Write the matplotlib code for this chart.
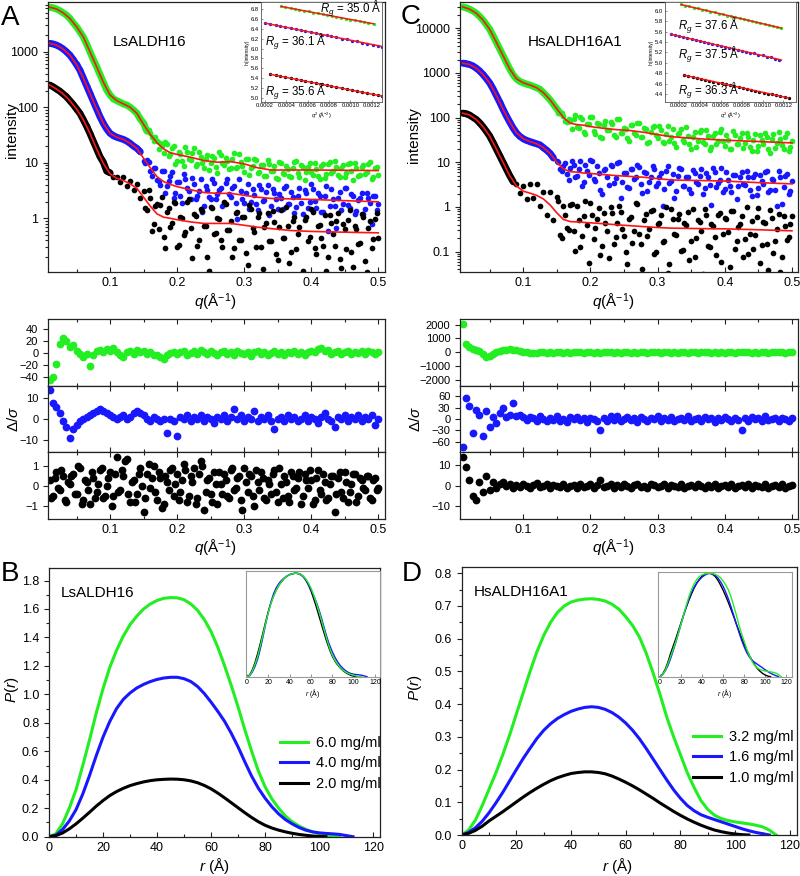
#!/usr/bin/env python3
"""
SAXS overview figure: LsALDH16 (A, B) and HsALDH16A1 (C, D).

  A / C  scattering curves with model fits (red), Guinier insets,
         normalised fit residuals underneath
  B / D  pair-distance distributions P(r) for the concentration series,
         peak-normalised curves in the inset

Intensities are kept as log10 values because that is how they were read
off the log axis.
"""

import numpy as np
import matplotlib
matplotlib.use("Agg")
import matplotlib.pyplot as plt
from matplotlib.ticker import (MultipleLocator, LogLocator, FuncFormatter,
                               NullFormatter, FormatStrFormatter, NullLocator)

plt.rcParams["font.family"] = ["Liberation Sans", "DejaVu Sans"]
plt.rcParams["mathtext.fontset"] = "custom"
plt.rcParams["mathtext.rm"] = "Liberation Sans"
plt.rcParams["mathtext.it"] = "Liberation Sans:italic"

# ── Colours ───────────────────────────────────────────────────────────────────
GREEN = "#22ee22"
BLUE = "#1818ff"
BLACK = "#000000"
RED = "#ff1414"
SPINE = "#222222"

# ── Measurement grids ─────────────────────────────────────────────────────────
Q = np.round(np.arange(0.010, 0.5001, 0.005), 4)      # 99 points
QH = np.round(np.arange(0.1525, 0.4976, 0.005), 4)    # interleaved high-q points
QR = np.round(np.arange(0.0125, 0.4976, 0.005), 4)    # interleaved residual points

# ── A: LsALDH16 scattering data, log10(intensity) ─────────────────────────────
LS_GREEN_LOG = [
    3.80, 3.79, 3.77, 3.74, 3.70, 3.66, 3.60, 3.52, 3.45, 3.36,
    3.27, 3.14, 3.00, 2.86, 2.73, 2.59, 2.45, 2.31, 2.22, 2.15,
    2.12, 2.09, 2.06, 2.04, 2.00, 1.95, 1.89, 1.79, 1.71, 1.57,
    1.54, 1.40, 1.39, 1.35, 1.17, 1.33, 1.15, 1.31, 1.03, 1.15,
    0.95, 1.20, 1.05, 1.26, 0.97, 1.10, 0.90, 1.14, 1.00, 1.08,
    0.82, 1.14, 0.96, 1.03, 0.91, 1.18, 0.93, 1.02, 0.83, 1.06,
    0.90, 1.06, 0.82, 0.96, 0.76, 1.05, 0.86, 0.95, 0.71, 0.99,
    0.80, 0.89, 0.75, 1.02, 0.82, 0.96, 0.69, 0.92, 0.84, 1.00,
    0.77, 0.94, 0.73, 0.98, 0.81, 1.03, 0.78, 0.90, 0.74, 0.97,
    0.85, 1.00, 0.76, 0.92, 0.79, 0.98, 0.71, 0.90, 0.78,
]
LS_GREEN_LOG_HQ = [
    1.60, 1.59, 1.46, 1.46, 1.24, 1.31, 1.37, 1.13, 1.26, 0.98,
    1.19, 1.03, 1.28, 1.07, 1.17, 0.95, 1.19, 0.99, 1.06, 0.87,
    1.13, 0.92, 1.19, 0.99, 1.09, 0.88, 1.06, 0.91, 1.15, 0.94,
    1.06, 0.78, 0.94, 1.05, 0.83, 0.96, 0.77, 0.98, 0.85, 0.72,
    1.01, 0.81, 0.95, 0.77, 0.90, 1.04, 0.74, 0.92, 0.83, 0.99,
    0.78, 0.89, 0.71, 0.98, 0.80, 1.02, 0.86, 0.93, 0.75, 0.96,
    0.82, 1.00, 0.69, 0.90, 0.78, 0.96, 0.83, 1.02, 0.75, 0.93,
]
LS_BLUE_LOG = [
    3.15, 3.14, 3.12, 3.09, 3.05, 3.00, 2.94, 2.86, 2.77, 2.67,
    2.53, 2.39, 2.25, 2.11, 1.97, 1.83, 1.71, 1.61, 1.53, 1.49,
    1.46, 1.44, 1.42, 1.39, 1.35, 1.30, 1.26, 1.20, 1.04, 1.05,
    0.86, 0.91, 0.69, 0.60, 0.86, 0.58, 0.76, 0.37, 0.65, 0.41,
    0.79, 0.55, 0.34, 0.62, 0.41, 0.70, 0.22, 0.51, 0.34, 0.63,
    0.43, 0.55, 0.25, 0.71, 0.39, 0.59, -0.01, 0.50, 0.27, 0.61,
    0.30, 0.42, 0.15, 0.53, 0.33, 0.60, 0.23, 0.45, 0.17, 0.36,
    0.55, 0.25, 0.48, 0.09, 0.41, 0.28, 0.51, 0.18, 0.61, 0.31,
    0.45, 0.12, 0.41, -0.22, 0.52, 0.22, 0.36, 0.15, 0.55, 0.24,
    0.43, 0.07, 0.33, 0.46, 0.16, 0.37, -0.10, 0.40, 0.25,
]
LS_BLUE_LOG_HQ = [
    1.00, 1.02, 0.77, 0.91, 0.67, 0.86, 0.45, 0.67, 0.84, 0.46,
    0.66, 0.27, 0.70, 0.49, 0.72, 0.34, 0.50, 0.12, 0.59, 0.39,
    0.70, 0.34, 0.51, 0.23, 0.64, 0.43, 0.54, 0.28, 0.71, 0.34,
    0.45, 0.16, 0.53, 0.25, 0.60, 0.32, 0.47, 0.06, 0.53, 0.35,
    0.43, 0.16, 0.58, 0.26, 0.38, 0.21, 0.55, 0.08, 0.46, 0.30,
    0.52, 0.18, 0.40, 0.12, 0.59, 0.23, 0.34, -0.18, 0.47, 0.25,
    0.54, 0.19, 0.40, 0.13, 0.36, 0.08, 0.46, 0.28, 0.40, 0.15,
]
LS_BLACK_LOG = [
    2.40, 2.37, 2.33, 2.29, 2.24, 2.19, 2.12, 2.05, 1.97, 1.89,
    1.78, 1.66, 1.53, 1.39, 1.25, 1.11, 1.01, 0.85, 0.82, 0.74,
    0.75, 0.66, 0.74, 0.58, 0.67, 0.51, 0.62, 0.36, 0.50, 0.15,
    0.36, -0.10, 0.26, 0.24, -0.33, 0.11, -0.15, 0.29, -0.52, 0.02,
    -0.30, 0.30, -0.17, 0.08, -0.49, 0.16, -0.14, -0.69, 0.21, -0.29,
    0.01, -0.39, 0.29, -0.21, -0.04, -0.54, 0.12, -0.39, 0.03, -0.84,
    0.17, -0.24, 0.02, -0.52, -0.16, 0.10, -0.41, -0.07, -0.75, 0.15,
    -0.36, -0.14, -0.60, 0.03, -0.28, -1.03, -0.03, -0.41, 0.16, -0.54,
    -0.14, -0.36, 0.06, -0.69, -0.09, -0.50, 0.10, -0.90, -0.20, -0.03,
    -0.60, -0.13, -0.46, 0.07, -0.76, -0.18, -0.54, -0.01, -0.36,
]
LS_BLACK_LOG_HQ = [
    0.19, 0.51, -0.22, 0.22, -0.19, 0.38, -0.54, 0.19, -0.09, 0.28,
    -0.48, 0.01, -0.25, 0.34, -0.72, 0.04, -0.39, 0.13, -0.14, -0.94,
    0.19, -0.27, -0.01, -0.51, 0.25, -0.21, -0.69, 0.10, -0.39, 0.03,
    -0.63, 0.24, -0.17, -0.51, 0.09, -0.92, -0.08, -0.40, 0.13, -0.64,
    -0.15, -0.36, 0.21, -0.80, -0.04, -0.55, -0.15, -0.95, 0.03, -0.33,
    0.11, -0.64, -0.12, -0.49, -0.94, 0.06, -0.29, -0.05, -0.73, -0.10,
    -0.55, 0.15, -0.87, -0.19, -0.44, 0.02, -0.96, -0.04, -0.38, 0.10,
]

# model fits (red lines), read at these q values
FIT_Q = [0.010, 0.020, 0.030, 0.040, 0.050, 0.060, 0.070, 0.080, 0.090, 0.100,
         0.110, 0.120, 0.130, 0.140, 0.150, 0.160, 0.170, 0.180, 0.190, 0.200,
         0.220, 0.240, 0.260, 0.280, 0.300, 0.320, 0.340, 0.370, 0.400, 0.450,
         0.500]
LS_GREEN_FIT = [3.80, 3.77, 3.70, 3.60, 3.45, 3.27, 3.00, 2.73, 2.45, 2.22,
                2.12, 2.06, 2.00, 1.89, 1.69, 1.51, 1.36, 1.25, 1.18, 1.15,
                1.10, 1.04, 1.01, 1.02, 0.98, 0.91, 0.87, 0.87, 0.87, 0.865,
                0.86]
LS_BLUE_FIT = [3.15, 3.12, 3.05, 2.94, 2.77, 2.53, 2.25, 1.97, 1.71, 1.53,
               1.46, 1.42, 1.35, 1.26, 1.08, 0.91, 0.75, 0.66, 0.61, 0.57,
               0.515, 0.465, 0.449, 0.449, 0.415, 0.38, 0.358, 0.35, 0.34, 0.318,
               0.297]
LS_BLACK_FIT = [2.40, 2.33, 2.24, 2.12, 1.97, 1.78, 1.53, 1.25, 0.99, 0.80,
                0.72, 0.68, 0.62, 0.54, 0.38, 0.22, 0.08, 0.02, 0.00, -0.025,
                -0.065, -0.092, -0.092, -0.092, -0.125, -0.16, -0.185, -0.22, -0.236, -0.25,
                -0.261]

# normalised residuals (Δ/σ)
LS_GREEN_RES = [
    -45, -40, -18, 15, 25, 20, 10, 14, 3, -2,
    -6, -1, -22, -4, 3, 5, 2, 6, 4, 8,
    2, -3, -7, 1, 3, -2, 5, 1, 4, -1,
    2, -4, -3, -6, -10, -4, 0, 2, -2, 1,
    3, -3, 0, 4, -1, 5, 2, -2, 3, 0,
    -3, 2, 4, -1, 1, -4, 3, 0, -2, 2,
    -5, 1, 3, -1, 2, -3, 0, 4, -2, 1,
    -4, 2, 0, 3, -1, 2, -3, 1, 4, 2,
    6, 8, 3, 5, -1, 2, 4, -2, 1, 3,
    -1, 2, 0, 4, -2, 3, 1, -1, 2,
]
LS_BLUE_RES = [
    14, 8, 6, 3, -1, -4, -9, -5, -3, -1,
    0, 1, 2, 3, 4, 5, 4, 3, 2, 1,
    0, 1, 2, 0, 1, 3, 4, 3, 2, 0,
    -1, 1, 0, -1, 0, -7, 0, -1, -8, 1,
    0, 2, -1, 1, 0, 2, -1, 1, 0, -2,
    1, 0, 2, -1, 1, 5, 0, 2, -1, 1,
    0, 4, -1, 1, 0, 2, -1, -5, 0, 1,
    -1, 2, 0, 1, -1, 0, 2, -1, 1, 0,
    -2, 1, 3, 0, -1, -4, 1, 0, 2, -1,
    1, 0, 2, -1, 1, 0, 2, -3, 0,
]
LS_BLACK_RES = [
    0.3, -0.5, 0.7, -0.2, 0.5, -0.8, 0.1, 0.6, -0.4, 0.9,
    -0.7, 0.2, -0.9, 0.4, -0.3, 0.8, -0.6, 0.0, 0.7, -0.5,
    1.4, -0.2, 0.5, 1.3, -0.8, 0.3, -0.4, 0.9, -1.3, 0.6,
    -0.1, 1.0, -0.7, 0.4, -0.9, 0.2, 0.8, -0.5, 0.6, -0.3,
    1.1, -0.8, 0.5, 0.9, -0.6, 1.2, -1.2, 0.3, -0.4, 0.7,
    -0.9, 0.1, 0.6, -0.5, 0.8, -0.2, 0.4, -0.7, 0.9, -0.3,
    0.5, -1.0, 0.2, 0.7, -0.6, 0.3, -0.4, 0.8, -0.8, 0.1,
    0.5, -0.5, 0.7, -0.2, 0.4, -0.9, 0.6, -0.1, 0.3, -0.7,
    0.8, -0.4, 0.2, -0.6, 0.5, -1.3, 0.4, -0.3, 0.7, -0.8,
    0.1, 0.6, -0.5, 0.3, -0.2, 0.5, -0.7, 0.4, -0.1,
]
LS_BLACK_RES_HQ = [
    -0.6, 0.4, -0.1, 0.8, -0.7, 0.2, 0.5, -0.4, 1.0, -0.9,
    0.3, -0.2, 0.7, -0.6, 0.1, 0.9, -0.5, 0.4, -1.0, 0.6,
    -0.3, 0.8, 1.2, -0.4, 0.2, -0.8, 0.6, 0.0, -0.6, 1.1,
    0.4, -0.3, 0.7, -1.1, 0.5, -0.2, 0.9, 0.1, -0.7, 0.3,
    0.8, -0.5, 0.2, -0.9, 0.6, 1.0, -0.3, 0.4, -0.8, 0.1,
    0.7, -0.4, 0.3, -0.6, 0.9, -0.1, 0.5, -1.2, 0.2, 0.6,
    -0.5, 0.8, -0.2, 0.4, -0.7, 0.1, 0.6, -0.3, 0.9, -0.6,
    0.2, -0.8, 0.5, -0.1, 0.7, -0.5, 0.3, 0.8, -0.9, 0.4,
    -0.2, 0.6, -0.7, 0.1, 0.5, -0.4, 0.7, -0.6, 0.2, -0.3,
    0.6, -0.8, 0.4, -0.1, 0.5, -0.6, 0.3, -0.2,
]

# ── C: HsALDH16A1 scattering data, log10(intensity) ───────────────────────────
HS_GREEN_LOG = [
    4.48, 4.46, 4.43, 4.39, 4.34, 4.27, 4.19, 4.09, 3.98, 3.84,
    3.69, 3.54, 3.39, 3.24, 3.09, 2.96, 2.87, 2.81, 2.78, 2.75,
    2.73, 2.70, 2.67, 2.635, 2.56, 2.48, 2.40, 2.30, 2.20, 2.10,
    2.03, 1.90, 1.92, 1.96, 1.80, 2.02, 1.68, 1.86, 2.02, 1.69,
    1.89, 1.57, 1.83, 1.73, 1.90, 1.61, 1.98, 1.65, 1.77, 1.54,
    1.84, 1.66, 1.89, 1.56, 1.76, 1.44, 1.67, 1.81, 1.55, 1.72,
    1.43, 1.81, 1.57, 1.43, 1.64, 1.75, 1.46, 1.58, 1.30, 1.67,
    1.47, 1.73, 1.41, 1.58, 1.34, 1.66, 1.47, 1.74, 1.37, 1.50,
    1.30, 1.61, 1.40, 1.66, 1.43, 1.56, 1.26, 1.63, 1.37, 1.50,
    1.66, 1.30, 1.52, 1.33, 1.67, 1.38, 1.57, 1.26, 1.48,
]
HS_GREEN_LOG_HQ = [
    2.11, 2.11, 1.92, 1.98, 1.75, 2.05, 1.76, 1.97, 1.64, 1.85,
    2.01, 1.64, 1.86, 1.55, 1.92, 1.73, 1.85, 1.56, 1.97, 1.66,
    1.75, 1.48, 1.84, 1.61, 1.88, 1.56, 1.74, 1.46, 1.79, 1.62,
    1.82, 1.45, 1.64, 1.47, 1.75, 1.34, 1.66, 1.51, 1.78, 1.41,
    1.56, 1.35, 1.67, 1.45, 1.72, 1.27, 1.59, 1.40, 1.67, 1.47,
    1.61, 1.30, 1.71, 1.40, 1.54, 1.32, 1.66, 1.35, 1.51, 1.26,
    1.61, 1.40, 1.56, 1.20, 1.63, 1.43, 1.53, 1.30, 1.65, 1.35,
]
HS_BLUE_LOG = [
    3.22, 3.21, 3.19, 3.16, 3.11, 3.05, 2.97, 2.88, 2.78, 2.65,
    2.50, 2.35, 2.19, 2.04, 1.90, 1.77, 1.66, 1.58, 1.53, 1.49,
    1.465, 1.44, 1.415, 1.39, 1.33, 1.27, 1.20, 1.10, 1.04, 0.86,
    0.92, 0.74, 0.88, 0.94, 0.70, 1.02, 0.56, 0.81, 1.05, 0.63,
    0.92, 0.38, 0.83, 0.68, 0.93, 0.53, 0.98, 0.20, 0.77, 0.44,
    0.84, 0.62, 0.94, 0.52, 0.79, 0.36, 0.68, 0.84, 0.54, 0.77,
    0.40, 0.91, 0.59, 0.20, 0.70, 0.84, 0.48, 0.66, 0.32, 0.77,
    0.51, 0.86, 0.43, 0.67, 0.04, 0.79, 0.54, 0.87, 0.40, 0.60,
    0.34, 0.72, 0.47, 0.79, 0.49, 0.68, 0.25, 0.74, 0.42, 0.59,
    0.79, 0.33, 0.62, 0.37, 0.81, 0.07, 0.69, 0.30, 0.58,
]
HS_BLUE_LOG_HQ = [
    1.00, 0.80, 0.98, 0.60, 1.04, 0.66, 0.86, 0.47, 0.94, 0.71,
    1.03, 0.58, 0.76, 0.28, 0.84, 0.50, 0.91, 0.64, 1.00, 0.55,
    0.76, 0.43, 0.84, 0.66, 0.90, 0.32, 0.76, 0.55, 0.91, 0.46,
    0.67, 0.02, 0.81, 0.54, 0.73, 0.36, 0.87, 0.48, 0.66, 0.40,
    0.82, 0.55, 0.70, 0.29, 0.76, 0.50, 0.88, 0.44, 0.61, 0.33,
    0.79, 0.47, 0.71, 0.17, 0.66, 0.51, 0.80, 0.37, 0.67, 0.27,
    0.72, 0.51, 0.80, 0.39, 0.61, 0.03, 0.67, 0.44, 0.74, 0.35,
]
HS_BLACK_LOG = [
    2.10, 2.09, 2.06, 2.01, 1.96, 1.89, 1.80, 1.70, 1.59, 1.45,
    1.30, 1.15, 1.00, 0.85, 0.70, 0.57, 0.52, 0.31, 0.48, 0.18,
    0.51, 0.19, 0.51, 0.03, 0.33, -0.19, 0.33, -0.29, 0.22, -0.62,
    0.02, -0.46, 0.05, -0.53, 0.02, -0.89, -0.20, -0.40, 0.10, -0.71,
    -0.27, -1.07, -0.13, -0.53, 0.01, -0.84, -0.35, -0.11, -0.66, -1.27,
    -0.22, -0.53, 0.07, -0.84, -0.29, -0.65, -0.10, -1.06, -0.38, -0.18,
    -0.77, -1.47, -0.05, -0.60, -0.26, -0.98, -0.36, -0.12, -0.76, -1.13,
    -0.30, -0.54, -0.04, -0.87, -0.39, -0.67, -0.17, -1.24, -0.24, -0.57,
    -0.09, -0.95, -0.45, -0.20, -0.72, -1.05, -0.31, -0.63, -0.03, -0.86,
    -0.37, -1.42, -0.24, -0.77, -0.15, -1.13, -0.43, -0.68, -0.20,
]
HS_BLACK_LOG_HQ = [
    0.13, -0.70, -0.18, -0.52, 0.07, -0.98, -0.29, -0.64, 0.13, -1.25,
    -0.18, -0.48, -0.02, -0.87, -0.36, -1.14, -0.14, -0.68, 0.02, -0.49,
    -1.01, -0.27, -0.80, 0.09, -0.61, -1.39, -0.16, -0.50, -0.07, -1.01,
    -0.36, -0.79, -0.01, -1.27, -0.28, -0.63, -0.15, -0.96, -0.40, -1.18,
    -0.04, -0.70, -0.34, -1.49, -0.19, -0.89, -0.43, -1.07, -0.13, -0.61,
    -0.27, -1.35, -0.10, -0.76, -0.38, -1.12, 0.00, -0.61, -0.93, -0.23,
    -1.26, -0.34, -0.82, -0.07, -1.04, -0.49, -1.45, -0.21, -0.73, -0.39,
]

HS_GREEN_FIT = [4.48, 4.43, 4.34, 4.19, 3.98, 3.69, 3.39, 3.09, 2.87, 2.78,
                2.73, 2.67, 2.56, 2.40, 2.20, 2.00, 1.875, 1.845, 1.83, 1.80,
                1.76, 1.73, 1.71, 1.67, 1.62, 1.575, 1.55, 1.52, 1.495, 1.465,
                1.434]
HS_BLUE_FIT = [3.22, 3.19, 3.11, 2.97, 2.78, 2.50, 2.19, 1.90, 1.66, 1.53,
               1.465, 1.415, 1.33, 1.20, 1.00, 0.85, 0.79, 0.78, 0.76, 0.75,
               0.725, 0.70, 0.683, 0.665, 0.635, 0.605, 0.598, 0.59, 0.58, 0.545,
               0.517]
HS_BLACK_FIT = [2.10, 2.06, 1.96, 1.80, 1.59, 1.30, 1.00, 0.70, 0.47, 0.355,
                0.31, 0.26, 0.18, 0.047, -0.13, -0.28, -0.327, -0.335, -0.345, -0.355,
                -0.375, -0.40, -0.42, -0.44, -0.46, -0.474, -0.478, -0.486, -0.49, -0.51,
                -0.534]

HS_GREEN_RES = [
    2050, 600, 400, 250, 150, 80, -150, -300, -250, -100,
    0, 100, 150, 200, 250, 200, 150, 100, 50, 0,
    -30, -60, -40, 0, 30, -20, 40, -50, 10, 60,
    -30, 20, -40, 50, -10, 30, -60, 0, 40, -20,
    10, -50, 30, -10, 60, -40, 20, -30, 50, 0,
    -20, 40, -60, 10, 30, -40, 20, -10, 50, -30,
    0, 40, -50, 20, -20, 10, 60, -40, 30, -10,
    -60, 20, 0, 40, -30, 10, -20, 50, -40, 30,
    0, -50, 20, 40, -10, 30, -20, 50, -30, 10,
    0, -40, 20, 60, -10, 30, -20, 0, 40,
]
HS_BLUE_RES = [
    -75, 55, 35, -38, 25, 10, -45, 20, -20, 5,
    -10, 15, 28, 5, 10, 42, 8, 12, 5, -3,
    6, 3, -5, 8, 0, -6, 4, -2, 7, -4,
    1, -7, 5, -1, 6, -3, 2, -8, 4, 0,
    -5, -28, 3, -4, 7, -2, 9, -6, 1, 5,
    -3, 2, -7, 6, 0, -4, 3, -1, 8, -5,
    2, -3, 5, -6, 1, 4, -2, 7, -4, 0,
    3, -5, 6, -1, 2, -7, 4, -3, 5, 0,
    -6, 3, -2, -28, 4, -4, 6, -1, 2, -5,
    7, -3, 1, 4, -6, 2, 0, -4, 3,
]
HS_BLACK_RES = [
    14, 9, 3, -5, -7, 2, -3, 5, -2, 2,
    -1, 1, 2, 0, 1, -1, 0.5, -0.5, 1, 0,
    -1, 0.5, 1.5, -0.5, 0, 1, -1, 0.5, 0, -0.5,
    1, -1, 0, 0.5, -1, 1, -0.5, 0, 1, -1,
    0.5, 3, -0.5, 0, 1, -1, 0.5, -0.5, 1, 0,
    -1, 0.5, 1, -0.5, 0, -1, 1, 0.5, -0.5, 0,
    1, -1, 0.5, 0, -0.5, 1, -1, 0, 0.5, -0.5,
    1, 0, -1, 0.5, -0.5, 1, -1, 0, 0.5, -0.5,
    1, -1, 0, 0.5, -0.5, 1, -1, 0.5, 0, -0.5,
    1, -1, 0, 0.5, -0.5, 1, -1, 0, 0.5,
]

# ── Guinier insets: q^2 (Å^-2) vs ln(intensity) ───────────────────────────────
LS_G_Q2 = [0.00035, 0.00039, 0.00044, 0.00048, 0.00052, 0.00057, 0.00061,
           0.00065, 0.00070, 0.00074, 0.00078, 0.00083, 0.00087, 0.00091,
           0.00096, 0.00100, 0.00104, 0.00109, 0.00113, 0.00117, 0.00122]
LS_G_LN = [6.862, 6.841, 6.826, 6.804, 6.793, 6.768, 6.757, 6.735, 6.719, 6.698,
           6.688, 6.661, 6.650, 6.629, 6.614, 6.592, 6.580, 6.555, 6.544, 6.522,
           6.507]
LS_B_Q2 = [0.00020, 0.00025, 0.00030, 0.00034, 0.00039, 0.00044, 0.00049,
           0.00054, 0.00058, 0.00063, 0.00068, 0.00073, 0.00078, 0.00082,
           0.00087, 0.00092, 0.00097, 0.00102, 0.00106, 0.00111, 0.00116,
           0.00121, 0.00126, 0.00130]
LS_B_LN = [6.522, 6.496, 6.480, 6.456, 6.440, 6.413, 6.397, 6.370, 6.357, 6.330,
           6.314, 6.287, 6.270, 6.249, 6.231, 6.205, 6.188, 6.162, 6.149, 6.122,
           6.105, 6.079, 6.062, 6.040]
LS_K_Q2 = [0.00025, 0.00030, 0.00034, 0.00039, 0.00044, 0.00049, 0.00054,
           0.00058, 0.00063, 0.00068, 0.00073, 0.00078, 0.00082, 0.00087,
           0.00092, 0.00097, 0.00102, 0.00106, 0.00111, 0.00116, 0.00121,
           0.00126, 0.00130]
LS_K_LN = [5.490, 5.462, 5.445, 5.432, 5.410, 5.388, 5.365, 5.348, 5.327, 5.306,
           5.288, 5.262, 5.246, 5.225, 5.205, 5.181, 5.162, 5.145, 5.122, 5.100,
           5.082, 5.058, 5.035]
LS_GUINIER_FITS = [([0.00035, 0.00122], [6.860, 6.505]),
                   ([0.00020, 0.00130], [6.520, 6.043]),
                   ([0.00025, 0.00130], [5.478, 5.032])]
LS_RG = ["35.0", "36.1", "35.6"]

HS_G_Q2 = [0.00022, 0.00026, 0.00030, 0.00034, 0.00038, 0.00042, 0.00046,
           0.00050, 0.00054, 0.00058, 0.00062, 0.00066, 0.00070, 0.00074,
           0.00078, 0.00082, 0.00086, 0.00090, 0.00094, 0.00098, 0.00102,
           0.00106, 0.00110, 0.00114, 0.00118]
HS_G_LN = [6.122, 6.099, 6.084, 6.061, 6.047, 6.024, 6.009, 5.986, 5.971, 5.948,
           5.933, 5.910, 5.896, 5.873, 5.858, 5.835, 5.820, 5.797, 5.782, 5.759,
           5.745, 5.722, 5.707, 5.684, 5.667]
HS_B_Q2 = [0.00012, 0.00016, 0.00020, 0.00024, 0.00028, 0.00032, 0.00036,
           0.00040, 0.00044, 0.00048, 0.00052, 0.00056, 0.00060, 0.00064,
           0.00068, 0.00072, 0.00076, 0.00080, 0.00084, 0.00088, 0.00092,
           0.00096, 0.00100, 0.00104, 0.00108, 0.00112, 0.00116]
HS_B_LN = [5.556, 5.528, 5.516, 5.490, 5.479, 5.452, 5.441, 5.415, 5.404, 5.377,
           5.366, 5.340, 5.329, 5.302, 5.291, 5.265, 5.254, 5.227, 5.216, 5.190,
           5.179, 5.152, 5.141, 5.115, 5.104, 5.077, 5.060]
HS_K_Q2 = [0.00025, 0.00029, 0.00033, 0.00037, 0.00041, 0.00045, 0.00049,
           0.00053, 0.00057, 0.00061, 0.00065, 0.00069, 0.00073, 0.00077,
           0.00081, 0.00085, 0.00089, 0.00093, 0.00097, 0.00101, 0.00105,
           0.00109, 0.00113, 0.00117, 0.00121, 0.00125]
HS_K_LN = [4.768, 4.745, 4.730, 4.700, 4.688, 4.667, 4.648, 4.630, 4.611, 4.615,
           4.590, 4.572, 4.551, 4.536, 4.508, 4.490, 4.482, 4.457, 4.446, 4.424,
           4.405, 4.389, 4.371, 4.352, 4.336, 4.318]
HS_GUINIER_FITS = [([0.00022, 0.00118], [6.120, 5.667]),
                   ([0.00012, 0.00118], [5.550, 5.053]),
                   ([0.00025, 0.00125], [4.760, 4.321])]
HS_RG = ["37.6", "37.5", "36.3"]

# ── B / D: pair-distance distributions, read every 2.5 Å ──────────────────────
R_STEP = 2.5
LS_P_GREEN = [0, 0.02, 0.09, 0.20, 0.33, 0.50, 0.68, 0.87, 1.04, 1.19,
              1.31, 1.41, 1.49, 1.55, 1.60, 1.635, 1.66, 1.675, 1.68, 1.678,
              1.665, 1.635, 1.59, 1.525, 1.44, 1.33, 1.20, 1.06, 0.91, 0.75,
              0.60, 0.46, 0.35, 0.265, 0.20, 0.145, 0.105, 0.075, 0.052, 0.035,
              0.022, 0.012, 0.004, 0]
LS_P_BLUE = [0, 0.01, 0.05, 0.11, 0.19, 0.30, 0.43, 0.57, 0.70, 0.81,
             0.90, 0.965, 1.01, 1.045, 1.07, 1.09, 1.105, 1.115, 1.12, 1.12,
             1.11, 1.09, 1.055, 1.005, 0.945, 0.88, 0.81, 0.725, 0.63, 0.525,
             0.425, 0.34, 0.27, 0.21, 0.16, 0.12, 0.09, 0.065, 0.046, 0.034,
             0.027, 0.023, 0.02, 0.016, 0.008, 0]
LS_P_BLACK = [0, 0.007, 0.026, 0.055, 0.09, 0.13, 0.172, 0.215, 0.254, 0.289,
              0.317, 0.34, 0.359, 0.373, 0.385, 0.394, 0.40, 0.403, 0.405, 0.404,
              0.40, 0.392, 0.379, 0.36, 0.336, 0.306, 0.273, 0.238, 0.203, 0.168,
              0.135, 0.105, 0.08, 0.061, 0.046, 0.034, 0.024, 0.016, 0.01, 0.005,
              0.002, 0]
LS_CONC = ["6.0 mg/ml", "4.0 mg/ml", "2.0 mg/ml"]

HS_P_GREEN = [0, 0.015, 0.045, 0.09, 0.14, 0.19, 0.245, 0.305, 0.37, 0.435,
              0.50, 0.56, 0.61, 0.65, 0.68, 0.70, 0.712, 0.718, 0.721, 0.722,
              0.72, 0.715, 0.705, 0.69, 0.667, 0.64, 0.605, 0.555, 0.495, 0.43,
              0.36, 0.30, 0.245, 0.19, 0.145, 0.105, 0.078, 0.06, 0.05, 0.044,
              0.04, 0.037, 0.034, 0.03, 0.025, 0.015, 0]
HS_P_BLUE = [0, 0.008, 0.022, 0.042, 0.068, 0.098, 0.13, 0.165, 0.20, 0.234,
             0.265, 0.295, 0.32, 0.34, 0.356, 0.368, 0.378, 0.385, 0.39, 0.392,
             0.39, 0.384, 0.374, 0.36, 0.342, 0.32, 0.294, 0.264, 0.232, 0.20,
             0.168, 0.138, 0.112, 0.09, 0.074, 0.062, 0.054, 0.047, 0.04, 0.033,
             0.026, 0.019, 0.013, 0.008, 0.004, 0]
HS_P_BLACK = [0, 0.005, 0.014, 0.027, 0.043, 0.057, 0.071, 0.086, 0.101, 0.116,
              0.13, 0.143, 0.155, 0.166, 0.175, 0.182, 0.188, 0.191, 0.193, 0.193,
              0.191, 0.187, 0.18, 0.171, 0.161, 0.15, 0.138, 0.125, 0.112, 0.098,
              0.085, 0.072, 0.06, 0.049, 0.039, 0.03, 0.022, 0.015, 0.01, 0.006,
              0.003, 0.001, 0]
HS_CONC = ["3.2 mg/ml", "1.6 mg/ml", "1.0 mg/ml"]

# ── Layout (figure fractions) ─────────────────────────────────────────────────
W_PX, H_PX = 800, 876
RES_TOP = 1 - 319 / H_PX
RES_H = 66.7 / H_PX
TICK_FS = 9
RES_TICK_FS = 8
LABEL_FS = 11


def fy(px):
    """pixel row (from top) -> figure fraction"""
    return 1 - px / H_PX


def _frame(ax, lw=0.9, colour=SPINE):
    for sp in ax.spines.values():
        sp.set_linewidth(lw)
        sp.set_color(colour)


def _ticks(ax, fs=TICK_FS):
    ax.tick_params(axis="x", which="both", direction="in", labelsize=fs,
                   color=SPINE, width=0.8)
    ax.tick_params(axis="y", which="both", direction="out", labelsize=fs,
                   color=SPINE, width=0.8)
    ax.tick_params(which="major", length=3.5)
    ax.tick_params(which="minor", length=2)


def saxs_panel(fig, rect, series, fits, xlim, ylim, name, name_xy):
    ax = fig.add_axes(rect)
    ax.set_yscale("log")
    for logi, log_hq, colour, n_band in series:
        inten = 10 ** np.asarray(logi)
        # low-q points are so dense they merge into a band
        ax.plot(Q[:n_band], inten[:n_band], "-", color=colour, lw=5.0,
                solid_capstyle="round", zorder=2)
        ax.plot(Q, inten, "o", color=colour, ms=4.1, mew=0, zorder=2)
        ax.plot(QH, 10 ** np.asarray(log_hq), "o", color=colour, ms=4.1,
                mew=0, zorder=2)
    for fit in fits:
        ax.plot(FIT_Q, 10 ** np.asarray(fit), "-", color=RED, lw=1.2, zorder=3)
    ax.set_xlim(*xlim)
    ax.set_ylim(*ylim)
    ax.xaxis.set_major_locator(MultipleLocator(0.1))
    ax.xaxis.set_minor_locator(MultipleLocator(0.05))
    ax.yaxis.set_major_locator(LogLocator(base=10))
    ax.yaxis.set_minor_locator(LogLocator(base=10, subs=np.arange(2, 10)))
    ax.yaxis.set_major_formatter(FuncFormatter(lambda v, _p: f"{v:g}"))
    ax.yaxis.set_minor_formatter(NullFormatter())
    _ticks(ax)
    _frame(ax)
    ax.text(name_xy[0], name_xy[1], name, transform=ax.transAxes, fontsize=11,
            va="center", ha="left")
    return ax


def guinier_inset(fig, rect, points, fits, rg, xlim, ylim, rg_pos):
    ax = fig.add_axes(rect)
    for (q2, ln, colour) in points:
        ax.plot(q2, ln, "o", color=colour, ms=2.4, mew=0, zorder=2)
    for fq, fl in fits:
        ax.plot(fq, fl, "-", color=RED, lw=1.1, zorder=3)
    ax.set_xlim(*xlim)
    ax.set_ylim(*ylim)
    ax.xaxis.set_major_locator(MultipleLocator(0.0002))
    ax.xaxis.set_major_formatter(FormatStrFormatter("%.4f"))
    ax.yaxis.set_major_locator(MultipleLocator(0.2))
    ax.yaxis.set_major_formatter(FormatStrFormatter("%.1f"))
    ax.tick_params(which="both", direction="in", labelsize=4.2, length=1.5,
                   width=0.4, pad=1.2, color="#444444")
    ax.set_xlabel(r"$q^2$ (Å$^{-2}$)", fontsize=4, labelpad=1.5)
    ax.set_ylabel("ln(intensity)", fontsize=3.5, labelpad=1)
    _frame(ax, lw=0.6, colour="#555555")
    for txt, (x, y, ha) in zip(rg, rg_pos):
        ax.text(x, y, rf"$R_g$ = {txt} Å", transform=ax.transAxes, fontsize=8.3,
                va="center", ha=ha)
    return ax


def residual_panels(fig, left, width, series, xlim, fig_x_label):
    for k, (res, colour, lim, ticks) in enumerate(series):
        bottom = RES_TOP - (k + 1) * RES_H
        ax = fig.add_axes([left, bottom, width, RES_H])
        ax.plot(Q, res, "o", color=colour, ms=5.6, mew=0)
        ax.set_xlim(*xlim)
        ax.set_ylim(*lim)
        ax.set_yticks(ticks)
        ax.xaxis.set_major_locator(MultipleLocator(0.1))
        ax.xaxis.set_minor_locator(MultipleLocator(0.05))
        _ticks(ax, RES_TICK_FS)
        ax.tick_params(axis="x", which="both", top=True, bottom=True,
                       labelbottom=(k == 2), labelsize=TICK_FS)
        _frame(ax)
        if k == 2:
            last = ax
    fig.text(fig_x_label, RES_TOP - 1.5 * RES_H, "Δ/$\\sigma$", rotation=90,
             fontsize=LABEL_FS, ha="center", va="center")
    return last


def pr_panel(fig, rect, curves, labels, ylim, ystep, name, leg_anchor):
    ax = fig.add_axes(rect)
    handles = []
    for (p, colour), lab in zip(curves, labels):
        r = np.arange(len(p)) * R_STEP
        h, = ax.plot(r, p, "-", color=colour, lw=2.2, label=lab,
                     solid_joinstyle="round")
        handles.append(h)
    ax.set_xlim(0, 122.5)
    ax.set_ylim(*ylim)
    ax.xaxis.set_major_locator(MultipleLocator(20))
    ax.xaxis.set_minor_locator(MultipleLocator(10))
    ax.yaxis.set_major_locator(MultipleLocator(ystep))
    ax.yaxis.set_minor_locator(MultipleLocator(ystep / 2))
    ax.yaxis.set_major_formatter(FormatStrFormatter("%.1f"))
    _ticks(ax)
    _frame(ax)
    ax.text(0.035, 0.905, name, transform=ax.transAxes, fontsize=11,
            va="center", ha="left")
    ax.legend(handles=handles, loc="upper left", bbox_to_anchor=leg_anchor,
              frameon=False, fontsize=10.5, handlelength=1.9,
              handletextpad=0.6, labelspacing=0.42, borderpad=0,
              borderaxespad=0)
    return ax


def pr_inset(fig, rect, curves, xlim, ylim):
    ax = fig.add_axes(rect)
    # black first so the green one sits on top
    for p, colour in reversed(curves):
        p = np.asarray(p)
        r = np.arange(len(p)) * R_STEP
        ax.plot(r, p / p.max(), "-", color=colour, lw=1.0)
    ax.set_xlim(*xlim)
    ax.set_ylim(*ylim)
    ax.xaxis.set_major_locator(MultipleLocator(20))
    ax.yaxis.set_major_locator(NullLocator())
    ax.tick_params(axis="x", direction="in", labelsize=5, length=2, width=0.5,
                   pad=1.5, color="#666666")
    ax.set_xlabel(r"$r$ (Å)", fontsize=5, labelpad=1)
    _frame(ax, lw=0.8, colour="#999999")
    return ax


# ── Build the figure ──────────────────────────────────────────────────────────

def main():
    fig = plt.figure(figsize=(W_PX / 100, H_PX / 100), dpi=100)

    main_bottom = fy(272)
    main_h = (272 - 2) / H_PX
    a_left, a_w = 48 / W_PX, 337 / W_PX
    c_left, c_w = 460 / W_PX, 338 / W_PX
    a_xlim = (0.0075, 0.51)
    c_xlim = (0.006, 0.509)

    # A
    saxs_panel(
        fig, [a_left, main_bottom, a_w, main_h],
        [(LS_GREEN_LOG, LS_GREEN_LOG_HQ, GREEN, 30),
         (LS_BLUE_LOG, LS_BLUE_LOG_HQ, BLUE, 28),
         (LS_BLACK_LOG, LS_BLACK_LOG_HQ, BLACK, 19)],
        [LS_GREEN_FIT, LS_BLUE_FIT, LS_BLACK_FIT],
        a_xlim, (0.108, 7850), "LsALDH16", (0.193, 0.852))
    guinier_inset(
        fig, [261 / W_PX, fy(101.7), 121 / W_PX, 99.7 / H_PX],
        [(LS_G_Q2, LS_G_LN, GREEN), (LS_B_Q2, LS_B_LN, BLUE), (LS_K_Q2, LS_K_LN, BLACK)],
        LS_GUINIER_FITS, LS_RG, (0.000163, 0.001297), (4.92, 6.95),
        [(0.995, 0.925, "right"), (0.03, 0.60, "left"), (0.03, 0.10, "left")])
    ax_res_a = residual_panels(
        fig, a_left, a_w,
        [(LS_GREEN_RES, GREEN, (-55, 57), [-40, -20, 0, 20, 40]),
         (LS_BLUE_RES, BLUE, (-16.2, 16.2), [-10, 0, 10]),
         (LS_BLACK_RES, BLACK, (-1.65, 1.65), [-1, 0, 1])],
        a_xlim, 13 / W_PX)
    ax_res_a.plot(QR, LS_BLACK_RES_HQ, "o", color=BLACK, ms=5.6, mew=0)

    # C
    saxs_panel(
        fig, [c_left, main_bottom, c_w, main_h],
        [(HS_GREEN_LOG, HS_GREEN_LOG_HQ, GREEN, 30),
         (HS_BLUE_LOG, HS_BLUE_LOG_HQ, BLUE, 28),
         (HS_BLACK_LOG, HS_BLACK_LOG_HQ, BLACK, 16)],
        [HS_GREEN_FIT, HS_BLUE_FIT, HS_BLACK_FIT],
        c_xlim, (0.035, 38800), "HsALDH16A1", (0.2, 0.852))
    guinier_inset(
        fig, [665 / W_PX, fy(101.7), 131 / W_PX, 99.7 / H_PX],
        [(HS_G_Q2, HS_G_LN, GREEN), (HS_B_Q2, HS_B_LN, BLUE), (HS_K_Q2, HS_K_LN, BLACK)],
        HS_GUINIER_FITS, HS_RG, (0.0000658, 0.00132), (4.25, 6.17),
        [(0.10, 0.76, "left"), (0.10, 0.47, "left"), (0.10, 0.11, "left")])
    residual_panels(
        fig, c_left, c_w,
        [(HS_GREEN_RES, GREEN, (-2400, 2400), [-2000, -1000, 0, 1000, 2000]),
         (HS_BLUE_RES, BLUE, (-88, 88), [-60, -30, 0, 30, 60]),
         (HS_BLACK_RES, BLACK, (-16.3, 16.3), [-10, 0, 10])],
        c_xlim, 415 / W_PX)

    # axis titles for the scattering blocks
    qlab = r"$q$(Å$^{-1}$)"
    for xc in (215 / W_PX, 613 / W_PX):
        fig.text(xc, fy(302), qlab, fontsize=LABEL_FS, ha="center", va="center")
        fig.text(xc, fy(548), qlab, fontsize=LABEL_FS, ha="center", va="center")
    fig.text(12 / W_PX, fy(130), "intensity", rotation=90, fontsize=LABEL_FS,
             ha="center", va="center")
    fig.text(414 / W_PX, fy(135), "intensity", rotation=90, fontsize=LABEL_FS,
             ha="center", va="center")

    # B
    ls_curves = [(LS_P_GREEN, GREEN), (LS_P_BLUE, BLUE), (LS_P_BLACK, BLACK)]
    pr_panel(fig, [49 / W_PX, fy(836.7), 331 / W_PX, 269 / H_PX], ls_curves,
             LS_CONC, (0, 1.89), 0.2, "LsALDH16", (0.698, 0.373))
    pr_inset(fig, [246 / W_PX, fy(676.7), 134 / W_PX, 106 / H_PX], ls_curves,
             (-0.9, 124.7), (0, 1.025))

    # D
    hs_curves = [(HS_P_GREEN, GREEN), (HS_P_BLUE, BLUE), (HS_P_BLACK, BLACK)]
    pr_panel(fig, [461.7 / W_PX, fy(835), 335 / W_PX, 268.3 / H_PX], hs_curves,
             HS_CONC, (0, 0.82), 0.1, "HsALDH16A1", (0.69, 0.39))
    pr_inset(fig, [658.3 / W_PX, fy(676.7), 133.4 / W_PX, 104.7 / H_PX], hs_curves,
             (-1.6, 125), (0, 1.013))

    for xc, yc in ((214 / W_PX, fy(866)), (617 / W_PX, fy(866))):
        fig.text(xc, yc, r"$r$ (Å)", fontsize=LABEL_FS, ha="center", va="center")
    for xc, yc in ((12 / W_PX, fy(690)), (415 / W_PX, fy(688))):
        fig.text(xc, yc, r"$P$($r$)", rotation=90, fontsize=LABEL_FS,
                 ha="center", va="center")

    # panel letters
    for letter, xp, yp in (("A", 10, 18), ("C", 411, 17), ("B", 10, 574), ("D", 412, 574)):
        fig.text(xp / W_PX, fy(yp), letter, fontsize=20, ha="center", va="center")

    fig.savefig("out.png", dpi=100)


if __name__ == "__main__":
    main()
